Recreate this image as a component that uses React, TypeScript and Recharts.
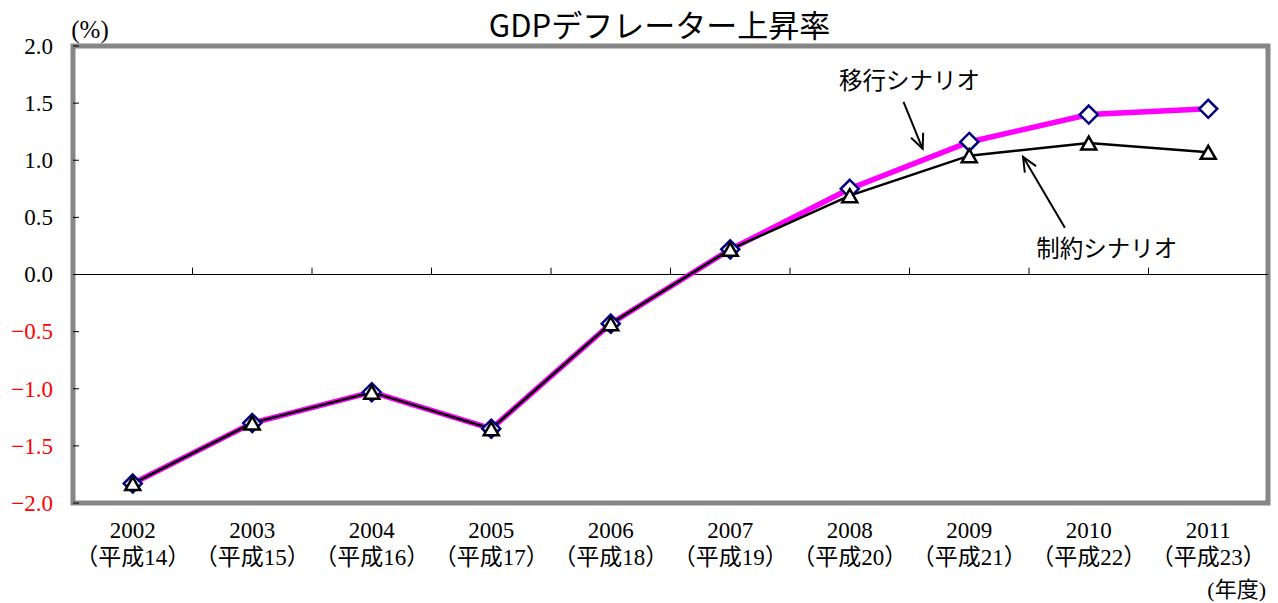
import React from 'react';
import { LineChart, Line, XAxis, YAxis, ReferenceArea, ReferenceLine, ReferenceDot } from 'recharts';

const fiscalYears = ['2002', '2003', '2004', '2005', '2006', '2007', '2008', '2009', '2010', '2011'];
const heiseiLabels = ['（平成14）', '（平成15）', '（平成16）', '（平成17）', '（平成18）', '（平成19）', '（平成20）', '（平成21）', '（平成22）', '（平成23）'];
const transitionScenario = [-1.83, -1.3, -1.03, -1.35, -0.43, 0.22, 0.75, 1.16, 1.4, 1.45];
const constrainedScenario = [-1.83, -1.3, -1.03, -1.35, -0.43, 0.22, 0.69, 1.04, 1.15, 1.07];
const yTicks = [-2, -1.5, -1, -0.5, 0, 0.5, 1, 1.5, 2];
const seriesNames = ['移行シナリオ', '制約シナリオ'];
const chartTitle = 'GDPデフレーター上昇率';
const yUnit = '(%)';
const xUnit = '(年度)';

// annotation anchors in data coordinates (x = category index)
const transitionNote = { x: 6.5, y: 1.7 };
const transitionArrow = [{ x: 6.45, y: 1.51 }, { x: 6.61, y: 1.1 }];
const constrainedNote = { x: 8.15, y: 0.23 };
const constrainedArrow = [{ x: 7.8, y: 0.41 }, { x: 7.45, y: 1.03 }];

const data = fiscalYears.map((_, i) => ({
  idx: i,
  transition: transitionScenario[i],
  constrained: constrainedScenario[i],
}));
const xTicks = fiscalYears.map((_, i) => i);
const boundaries = fiscalYears.slice(1).map((_, i) => i + 0.5);

const SERIF = "'Liberation Serif', 'Noto Sans CJK JP', serif";
const SANS = "'Noto Sans CJK JP', 'Noto Sans', sans-serif";
const Y_TICK_MARGIN = 20;

const formatY = (v: number) => {
  const s = Math.abs(v).toFixed(1);
  return v < 0 ? '\u2212' + s : s;
};

const YTick = (props: any) => {
  const { x, y, payload } = props;
  const v = payload.value as number;
  return (
    <g>
      <line x1={x + Y_TICK_MARGIN} x2={x + Y_TICK_MARGIN + 6} y1={y} y2={y} stroke="#000" strokeWidth={1} />
      <text x={x} y={y} dy="0.34em" textAnchor="end" fill={v < 0 ? '#FF0000' : '#000'} fontSize={23} fontFamily={SERIF}>
        {formatY(v)}
      </text>
    </g>
  );
};

const XTick = (props: any) => {
  const { x, y, payload } = props;
  const i = payload.value as number;
  return (
    <text x={x} y={y} textAnchor="middle" fill="#000" fontSize={23} fontFamily={SERIF}>
      <tspan x={x} dy={35}>{fiscalYears[i]}</tspan>
      <tspan x={x} dy={27}>{heiseiLabels[i]}</tspan>
    </text>
  );
};

const Diamond = (props: any) => {
  const { cx, cy, index } = props;
  if (cx == null || cy == null) return <g key={`d${index}`} />;
  const r = 9;
  return (
    <polygon
      key={`d${index}`}
      points={`${cx},${cy - r} ${cx + r},${cy} ${cx},${cy + r} ${cx - r},${cy}`}
      fill="#fff"
      stroke="#000080"
      strokeWidth={2.5}
    />
  );
};

const Triangle = (props: any) => {
  const { cx, cy, index } = props;
  if (cx == null || cy == null) return <g key={`t${index}`} />;
  return (
    <polygon
      key={`t${index}`}
      points={`${cx},${cy - 6.5} ${cx + 7.5},${cy + 6.5} ${cx - 7.5},${cy + 6.5}`}
      fill="#fff"
      stroke="#000"
      strokeWidth={2.5}
      strokeLinejoin="miter"
    />
  );
};

const Arrow = (props: any) => {
  const { x1, y1, x2, y2 } = props;
  const ang = Math.atan2(y2 - y1, x2 - x1);
  const len = 16;
  const spread = 0.42;
  const ax = x2 - len * Math.cos(ang - spread);
  const ay = y2 - len * Math.sin(ang - spread);
  const bx = x2 - len * Math.cos(ang + spread);
  const by = y2 - len * Math.sin(ang + spread);
  return (
    <g>
      <line x1={x1} y1={y1} x2={x2} y2={y2} stroke="#000" strokeWidth={2} />
      <polyline points={`${ax},${ay} ${x2},${y2} ${bx},${by}`} fill="none" stroke="#000" strokeWidth={2} />
    </g>
  );
};

const noteShape = (text: string) => (props: any) => (
  <text x={props.cx} y={props.cy} dy="0.36em" textAnchor="middle" fill="#000" fontSize={23.5} fontFamily={SANS}>
    {text}
  </text>
);

const ZeroTick = (props: any) => {
  const { x1, y1, x2, y2 } = props;
  return <line x1={x1} y1={y1} x2={x2} y2={y2} stroke="#000" strokeWidth={1} />;
};

export default function App() {
  return (
    <div style={{ position: 'absolute', left: 0, top: 0, width: 1278, height: 603, background: '#fff' }}>
      <LineChart width={1278} height={603} data={data} margin={{ top: 0, right: 10, bottom: 0, left: 0 }}>
        <XAxis
          xAxisId="top"
          orientation="top"
          dataKey="idx"
          type="number"
          domain={[-0.5, 9.5]}
          height={46}
          tick={false}
          tickLine={false}
          axisLine={false}
          label={{
            content: (p: any) => {
              const vb = p.viewBox;
              return (
                <text x={vb.x + vb.width / 2 - 11} y={37} textAnchor="middle" fill="#000" fontSize={31} fontFamily={SANS}>
                  {chartTitle}
                </text>
              );
            },
          }}
        />
        <XAxis
          dataKey="idx"
          type="number"
          domain={[-0.5, 9.5]}
          ticks={xTicks}
          interval={0}
          height={100}
          tickSize={0}
          tickMargin={0}
          tickLine={false}
          axisLine={false}
          tick={<XTick />}
          label={{
            content: (p: any) => {
              const vb = p.viewBox;
              return (
                <text x={vb.x + vb.width - 2} y={vb.y + vb.height - 6} textAnchor="end" fill="#000" fontSize={22} fontFamily={SERIF}>
                  {xUnit}
                </text>
              );
            },
          }}
        />
        <YAxis
          type="number"
          domain={[-2, 2]}
          ticks={yTicks}
          interval={0}
          width={73}
          tickSize={0}
          tickMargin={Y_TICK_MARGIN}
          tickLine={false}
          axisLine={false}
          tick={<YTick />}
          label={{
            content: (p: any) => {
              const vb = p.viewBox;
              return (
                <text x={vb.x + vb.width + 17} y={vb.y - 8} textAnchor="middle" fill="#000" fontSize={25} fontFamily={SERIF}>
                  {yUnit}
                </text>
              );
            },
          }}
        />
        <ReferenceLine y={0} stroke="#000" strokeWidth={1} />
        {boundaries.map((b) => (
          <ReferenceLine
            key={`zb${b}`}
            segment={[{ x: b, y: 0 }, { x: b, y: 0.06 }]}
            shape={<ZeroTick />}
          />
        ))}
        <Line
          type="linear"
          dataKey="transition"
          name={seriesNames[0]}
          stroke="#FF00FF"
          strokeWidth={5.5}
          dot={Diamond}
          activeDot={false}
          isAnimationActive={false}
        />
        <Line
          type="linear"
          dataKey="constrained"
          name={seriesNames[1]}
          stroke="#000"
          strokeWidth={2.5}
          dot={Triangle}
          activeDot={false}
          isAnimationActive={false}
        />
        <ReferenceLine segment={transitionArrow} shape={<Arrow />} ifOverflow="visible" />
        <ReferenceLine segment={constrainedArrow} shape={<Arrow />} ifOverflow="visible" />
        <ReferenceDot x={transitionNote.x} y={transitionNote.y} r={0} shape={noteShape(seriesNames[0])} ifOverflow="visible" />
        <ReferenceDot x={constrainedNote.x} y={constrainedNote.y} r={0} shape={noteShape(seriesNames[1])} ifOverflow="visible" />
        <ReferenceArea x1={-0.5} x2={9.5} y1={-2} y2={2} fill="none" stroke="#868686" strokeWidth={5} ifOverflow="visible" />
      </LineChart>
    </div>
  );
}
